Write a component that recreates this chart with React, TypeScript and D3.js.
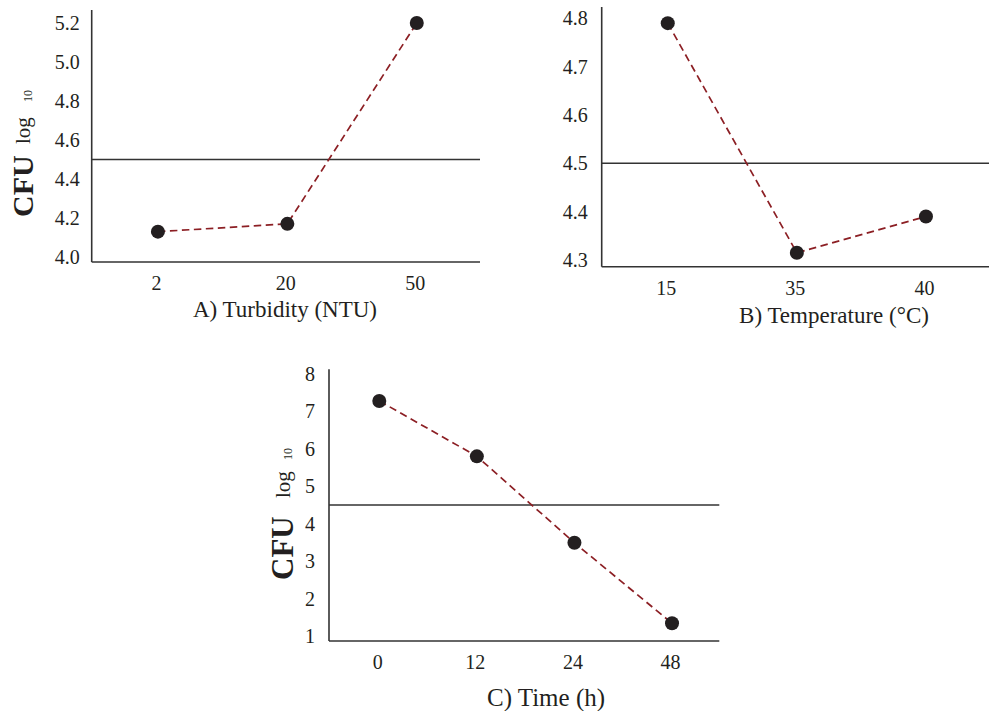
import React from "react";
import * as d3 from "d3";

// Panel A – Turbidity
const turbidityCats = ["2", "20", "50"];
const turbidityVals = [4.13, 4.17, 5.2];
const turbidityTicks = [4.0, 4.2, 4.4, 4.6, 4.8, 5.0, 5.2];

// Panel B – Temperature
const tempCats = ["15", "35", "40"];
const tempVals = [4.79, 4.315, 4.39];
const tempTicks = [4.3, 4.4, 4.5, 4.6, 4.7, 4.8];

// Panel C – Time
const timeCats = ["0", "12", "24", "48"];
const timeVals = [7.28, 5.8, 3.49, 1.34];
const timeTicks = [1, 2, 3, 4, 5, 6, 7, 8];

const threshold = 4.5;

const FONT = "'Liberation Serif', 'Times New Roman', serif";
const AXIS = "#333333";
const LINE = "#8c1f24";
const DOT = "#231f20";

type PanelProps = {
  cats: string[];
  vals: number[];
  ticks: number[];
  tickFmt: (v: number) => string;
  left: number;
  right: number;
  axisTop: number;
  axisBottom: number;
  yDomain: [number, number];
  yRange: [number, number];
  xLabel: string;
  xLabelX: number;
  xLabelY: number;
  xLabelSize: number;
  tickGap: number;
  yLabel?: { x: number; y: number; logStart: number; subStart: number; size: number };
};

function Panel(p: PanelProps) {
  const x = d3.scaleBand<string>().domain(p.cats).range([p.left, p.right]);
  const y = d3.scaleLinear().domain(p.yDomain).range(p.yRange);
  const cx = (c: string) => (x(c) as number) + x.bandwidth() / 2;
  const pts: [number, number][] = p.cats.map((c, i) => [cx(c) + 1.5, y(p.vals[i])]);
  const line = d3.line().curve(d3.curveLinear)(pts) || "";
  const tickLabelY = p.axisBottom + 21;
  return (
    <g>
      {p.ticks.map((t) => (
        <text
          key={t}
          x={p.left - p.tickGap}
          y={y(t)}
          dy="0.35em"
          textAnchor="end"
          fontFamily={FONT}
          fontSize={20}
          fill="#231f20"
        >
          {p.tickFmt(t)}
        </text>
      ))}
      <line x1={p.left} x2={p.right} y1={y(threshold)} y2={y(threshold)} stroke={AXIS} strokeWidth={1.4} />
      <line x1={p.left} x2={p.left} y1={p.axisTop} y2={p.axisBottom} stroke={AXIS} strokeWidth={1.6} />
      <line x1={p.left} x2={p.right} y1={p.axisBottom} y2={p.axisBottom} stroke={AXIS} strokeWidth={1.6} />
      {p.cats.map((c) => (
        <text
          key={c}
          x={cx(c)}
          y={tickLabelY}
          dy="0.35em"
          textAnchor="middle"
          fontFamily={FONT}
          fontSize={20}
          fill="#231f20"
        >
          {c}
        </text>
      ))}
      <path d={line} fill="none" stroke={LINE} strokeWidth={1.7} strokeDasharray="7.5,4.5" />
      {pts.map(([px, py], i) => (
        <circle key={i} cx={px} cy={py} r={7} fill={DOT} />
      ))}
      <text
        x={p.xLabelX}
        y={p.xLabelY}
        dy="0.35em"
        textAnchor="middle"
        fontFamily={FONT}
        fontSize={p.xLabelSize}
        fill="#231f20"
      >
        {p.xLabel}
      </text>
      {p.yLabel && (
        <g transform={`translate(${p.yLabel.x},${p.yLabel.y}) rotate(-90)`} fontFamily={FONT} fill="#231f20">
          <text x={0} y={0} fontSize={p.yLabel.size} fontWeight="bold">
            CFU
          </text>
          <text x={p.yLabel.logStart} y={-3} fontSize={21}>
            log
          </text>
          <text x={p.yLabel.subStart} y={-1} fontSize={12}>
            10
          </text>
        </g>
      )}
    </g>
  );
}

export default function App() {
  return (
    <svg width={989} height={711} style={{ position: "absolute", left: 0, top: 0, background: "#fff" }}>
      <rect width={989} height={711} fill="#fff" />
      <Panel
        cats={turbidityCats}
        vals={turbidityVals}
        ticks={turbidityTicks}
        tickFmt={(v) => v.toFixed(1)}
        left={91.7}
        right={480}
        axisTop={10}
        axisBottom={262}
        yDomain={[4.0, 5.2]}
        yRange={[257, 23]}
        xLabel="A) Turbidity (NTU)"
        xLabelX={285}
        xLabelY={309}
        xLabelSize={23}
        tickGap={12}
        yLabel={{ x: 33, y: 217, logStart: 73, subStart: 115, size: 30 }}
      />
      <Panel
        cats={tempCats}
        vals={tempVals}
        ticks={tempTicks}
        tickFmt={(v) => v.toFixed(1)}
        left={601.7}
        right={989}
        axisTop={7}
        axisBottom={266.7}
        yDomain={[4.3, 4.8]}
        yRange={[260, 18.3]}
        xLabel="B) Temperature (°C)"
        xLabelX={834}
        xLabelY={315}
        xLabelSize={23}
        tickGap={14}
      />
      <Panel
        cats={timeCats}
        vals={timeVals}
        ticks={timeTicks}
        tickFmt={(v) => String(v)}
        left={329}
        right={719.3}
        axisTop={369.3}
        axisBottom={641}
        yDomain={[1, 8]}
        yRange={[636, 374]}
        xLabel="C) Time (h)"
        xLabelX={546}
        xLabelY={697}
        xLabelSize={25}
        tickGap={14}
        yLabel={{ x: 293, y: 580, logStart: 82, subStart: 120, size: 31 }}
      />
    </svg>
  );
}
